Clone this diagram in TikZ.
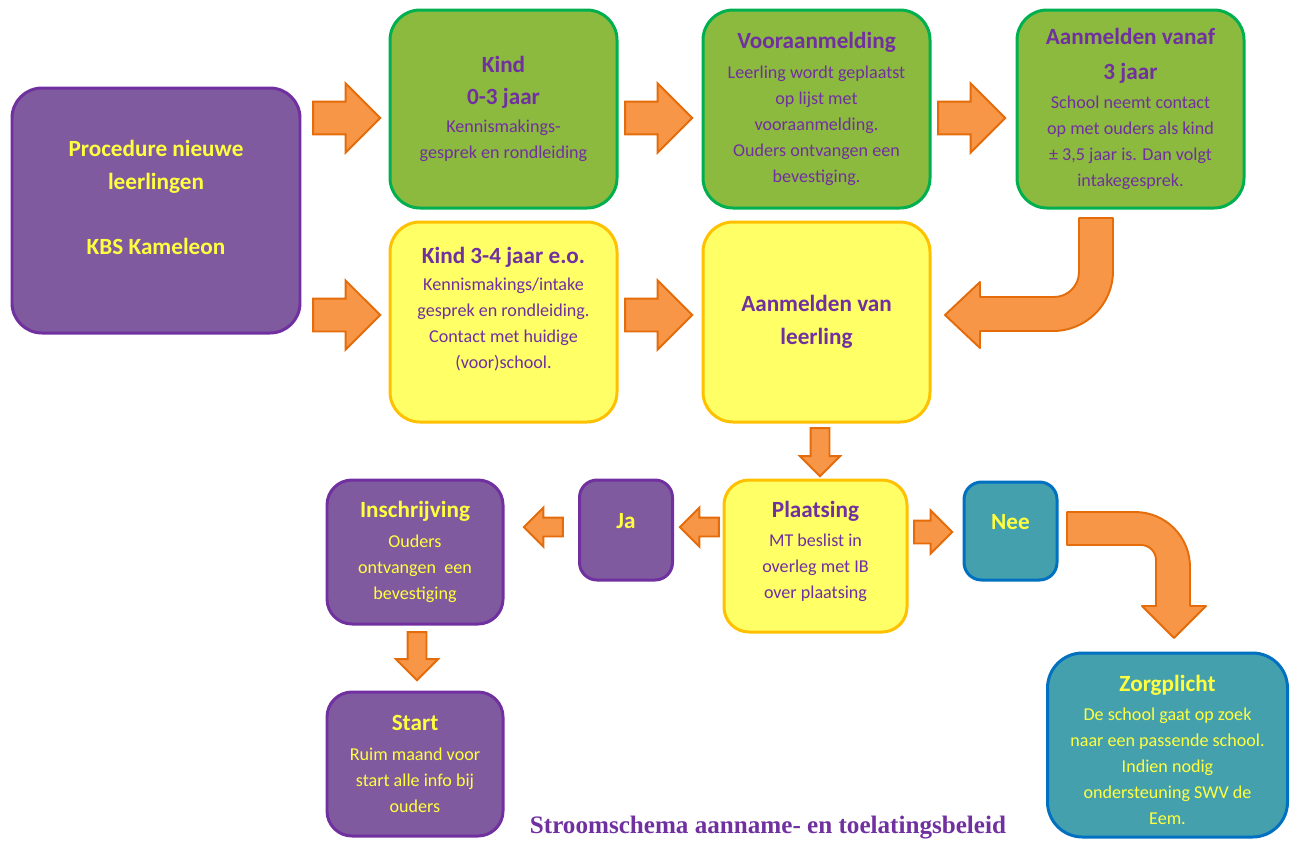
\documentclass[tikz,border=0pt]{standalone}
\usepackage{fontspec}
\setmainfont{Carlito}
\newfontfamily\titlefont{Liberation Serif}
\usetikzlibrary{shapes.arrows,calc}

\definecolor{purplefill}{HTML}{7F5A9E}
\definecolor{purpleline}{HTML}{7030A0}
\definecolor{greenfill}{HTML}{8CBA3E}
\definecolor{greenline}{HTML}{00B050}
\definecolor{yellowfill}{HTML}{FFFF66}
\definecolor{yellowline}{HTML}{FFC000}
\definecolor{tealfill}{HTML}{45A0AE}
\definecolor{tealline}{HTML}{0070C0}
\definecolor{textpurple}{HTML}{7030A0}
\definecolor{textyellow}{HTML}{FFFF40}
\definecolor{arrowfill}{HTML}{F79646}
\definecolor{arrowline}{HTML}{E46C0A}

\newcommand\bodyfont{\fontsize{10.3pt}{14.8pt}\selectfont}
\newcommand\hd{\fontsize{13.2pt}{15pt}\selectfont\bfseries}
% extra depth / height on a line, to move a text block up or down in its box
\newcommand\lift[1]{\rule[-#1]{0pt}{#1}}
\newcommand\sink[1]{\rule{0pt}{#1}}

\tikzset{
    box/.style={draw, line width=1.7pt, align=center, inner sep=0pt, font=\bodyfont},
    boxsize/.style 2 args={minimum width=#1*0.02cm, minimum height=#2*0.02cm},
    purplebox/.style={box, fill=purplefill, draw=purpleline, text=textyellow},
    greenbox/.style={box, fill=greenfill, draw=greenline, text=textpurple},
    yellowbox/.style={box, fill=yellowfill, draw=yellowline, text=textpurple},
    tealbox/.style={box, fill=tealfill, draw=tealline, text=textyellow},
    barrow/.style n args={3}{single arrow, draw=arrowline, fill=arrowfill, anchor=tip,
        line width=1.1pt, inner xsep=0pt, inner ysep=#2*0.01cm,
        single arrow head extend=(#3-#2)*0.01cm, minimum height=#1*0.02cm},
    bentarrow/.style={draw=arrowline, fill=arrowfill, line width=1.1pt, line join=round}
}

\begin{document}
\begin{tikzpicture}[x=0.02cm, y=-0.02cm]
\useasboundingbox (0,0) rectangle (1290,843);

% first row
\node[purplebox, boxsize={288}{245}, rounded corners=0.6cm, font=\hd] (proc) at (156,210.5)
    {Procedure nieuwe\\[3.7pt]leerlingen\\[22pt]KBS Kameleon\lift{14.8pt}};
\node[greenbox, boxsize={227}{198}, rounded corners=0.6cm] (kind03) at (503.5,109)
    {{\hd Kind}\\[3.3pt]{\hd 0-3 jaar}\\[1.6pt]Kennismakings-\\gesprek en rondleiding};
\node[greenbox, boxsize={227}{198}, rounded corners=0.6cm] (voor) at (816.5,109)
    {{\hd Vooraanmelding}\\[2.2pt]Leerling wordt geplaatst\\op lijst met\\vooraanmelding.\\Ouders ontvangen een\\bevestiging.};
\node[greenbox, boxsize={227}{198}, rounded corners=0.6cm] (aanm3) at (1130.5,109)
    {{\hd Aanmelden vanaf}\\[5pt]{\hd 3 jaar}\\[1.6pt]School neemt contact\\op met ouders als kind\\± 3,5 jaar is. Dan volgt\\intakegesprek.};

% second row
\node[yellowbox, boxsize={227}{200}, rounded corners=0.6cm] (kind34) at (503.5,322)
    {{\hd Kind 3-4 jaar e.o.}\\[0.5pt]Kennismakings/intake\\gesprek en rondleiding.\\Contact met huidige\\(voor)school.\lift{16pt}};
\node[yellowbox, boxsize={227}{200}, rounded corners=0.6cm, font=\hd] (aanmvan) at (816.5,322)
    {Aanmelden van\\[3.9pt]leerling};

% third row
\node[yellowbox, boxsize={183}{152}, rounded corners=0.5cm] (plaats) at (815.5,556)
    {{\hd Plaatsing}\\[2.2pt]MT beslist in\\overleg met IB\\over plaatsing\lift{7pt}};
\node[purplebox, boxsize={93}{100}, rounded corners=0.35cm, font=\hd] (ja) at (626,530) {Ja\lift{10.2pt}};
\node[tealbox, boxsize={93}{98}, rounded corners=0.35cm, font=\hd] (nee) at (1010.5,531) {Nee\lift{10.2pt}};
\node[purplebox, boxsize={176}{144}, rounded corners=0.5cm] (inschr) at (415,552)
    {{\hd Inschrijving}\\[2.2pt]Ouders\\ontvangen\ \ een\\bevestiging};
\node[purplebox, boxsize={176}{144}, rounded corners=0.5cm] (start) at (415,764)
    {{\hd Start}\\[2.2pt]Ruim maand voor\\start alle info bij\\ouders};
\node[tealbox, boxsize={240}{184}, rounded corners=0.7cm] (zorg) at (1167.5,745)
    {{\hd\sink{15pt}Zorgplicht}\\[1.6pt]De school gaat op zoek\\naar een passende school.\\Indien nodig\\ondersteuning SWV de\\Eem.};

\node[text=textpurple, font=\titlefont\bfseries\fontsize{14.3pt}{16pt}\selectfont] (title) at (768,828)
    {Stroomschema aanname- en toelatingsbeleid};

% straight arrows, tip next to the box they point at
\node[barrow={67}{31}{67}] (a1) at ($(kind03.west)+(-7,9)$) {};
\node[barrow={67}{31}{67}] (a2) at ($(voor.west)+(-8,9)$) {};
\node[barrow={67}{31}{67}] (a3) at ($(aanm3.west)+(-9,9)$) {};
\node[barrow={67}{31}{67}] (a4) at ($(kind34.west)+(-7,-7)$) {};
\node[barrow={67}{31}{67}] (a5) at ($(aanmvan.west)+(-8,-7)$) {};
\node[barrow={48}{17}{38}, rotate=-90] (a6) at ($(plaats.north)+(4.5,-1)$) {};
\node[barrow={39}{17}{37}, rotate=180] (a7) at ($(ja.east)+(4.5,-3)$) {};
\node[barrow={39}{17}{37}, rotate=180] (a8) at ($(inschr.east)+(18,-25)$) {};
\node[barrow={38}{21}{41}] (a9) at ($(nee.west)+(-9,1)$) {};
\node[barrow={48}{17}{40}, rotate=-90] (a10) at ($(start.north)+(2,-9)$) {};

% bent arrows
\filldraw[bentarrow] (1079,218) -- (1113,218) [rounded corners=1.2cm] -- (1113,331)
    [sharp corners] -- (980,331) -- (980,348) -- (945,315) -- (980,282) -- (980,297)
    [rounded corners=0.5cm] -- (1079,297) [sharp corners] -- cycle;
\filldraw[bentarrow] (1067,512) [rounded corners=1.1cm] -- (1190,512) [sharp corners]
    -- (1190,606) -- (1206,606) -- (1174,638) -- (1142,606) -- (1156,606)
    [rounded corners=0.3cm] -- (1156,545) [sharp corners] -- (1067,545) -- cycle;
\end{tikzpicture}
\end{document}
